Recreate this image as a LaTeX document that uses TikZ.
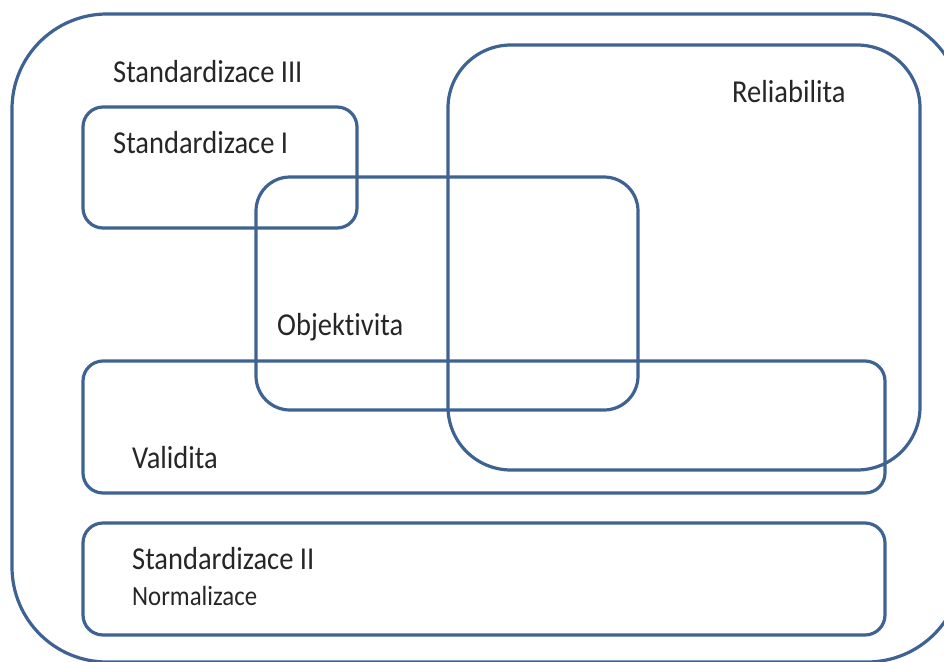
\documentclass[tikz,border=0pt]{standalone}
\usepackage{fontspec}
\setmainfont{Carlito}[Ligatures={NoCommon}]
\definecolor{boxblue}{RGB}{62,98,146}
\newcommand{\tallbox}[1]{\scalebox{1}[1.12]{#1}}
\begin{document}
\begin{tikzpicture}[x=1pt,y=-1pt,
  box/.style={draw=boxblue,line width=3.2pt},
  lbl/.style={anchor=base west,inner sep=0pt,font=\fontsize{28.5}{30}\selectfont,text=black!85},
  lblsmall/.style={anchor=base west,inner sep=0pt,font=\fontsize{24.8}{26}\selectfont,text=black!85}]
\useasboundingbox (0,0) rectangle (944,661);
\clip (0,0) rectangle (944,661);
% outer
\draw[box,rounded corners=95pt] (12,14) rectangle (962,662);
% Standardizace I
\draw[box,rounded corners=20pt] (83,107) rectangle (357,228);
% Objektivita
\draw[box,rounded corners=34pt] (256,177) rectangle (638,410);
% Reliabilita
\draw[box,rounded corners=63pt] (448,45) rectangle (920,470);
% Validita
\draw[box,rounded corners=20pt] (83,361) rectangle (885,493);
% Standardizace II
\draw[box,rounded corners=20pt] (83,523) rectangle (885,635);
% labels
\node[lbl] (s3) at (113,82) {\tallbox{Standardizace III}};
\node[lbl] (s1) at (113,153) {\tallbox{Standardizace I}};
\node[lbl] (rel) at (732,102) {\tallbox{Reliabilita}};
\node[lbl] (obj) at (277,335) {\tallbox{Objektivita}};
\node[lbl] (val) at (132,468) {\tallbox{Validita}};
\node[lbl] (s2) at (132,569) {\tallbox{Standardizace II}};
\node[lblsmall] (norm) at (132,605) {\tallbox{Normalizace}};
\end{tikzpicture}
\end{document}
